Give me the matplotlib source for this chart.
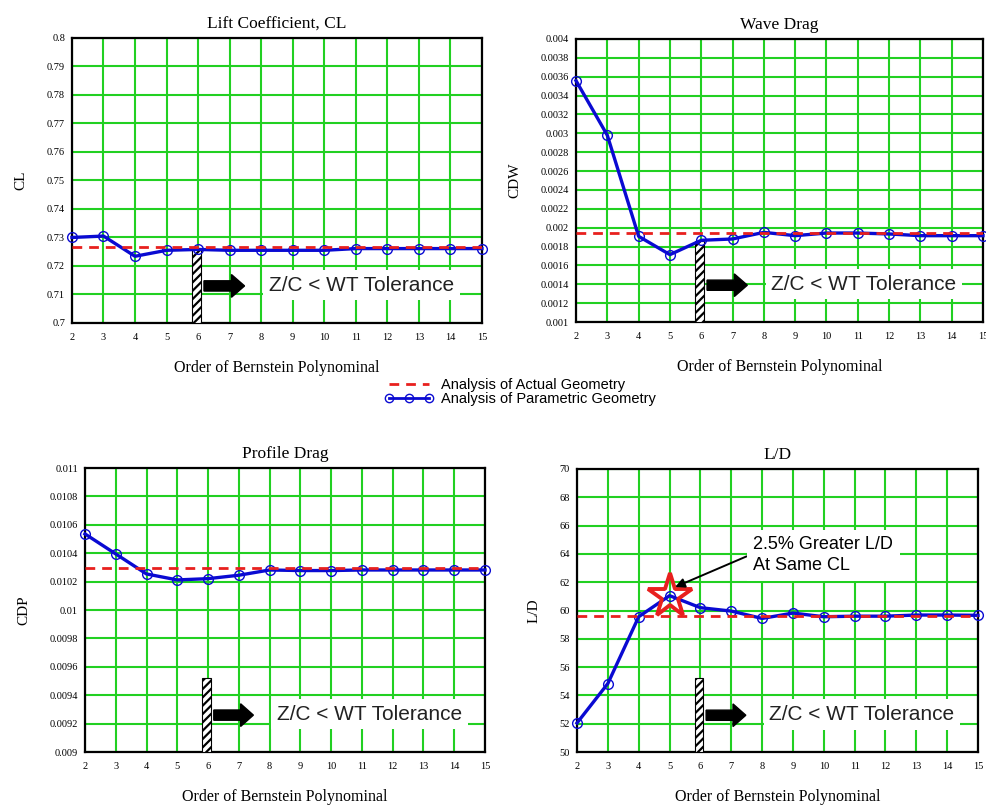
import numpy as np
import matplotlib
matplotlib.use("Agg")
import matplotlib.pyplot as plt
from matplotlib.lines import Line2D
from matplotlib.patches import FancyArrow
from matplotlib.ticker import FuncFormatter

plt.rcParams["font.family"] = ["Liberation Serif", "DejaVu Serif"]
plt.rcParams["hatch.linewidth"] = 1.6

# polynomial order
order = list(range(2, 16))

# lift coefficient
cl_param = [0.7300, 0.7305, 0.7234, 0.7255, 0.7258, 0.7255, 0.7255,
            0.7255, 0.7255, 0.7261, 0.7261, 0.7261, 0.7261, 0.7261]
cl_actual = 0.7265

# wave drag
cdw_param = [0.003558, 0.002979, 0.001908, 0.001714, 0.001866, 0.001880, 0.001950,
             0.001915, 0.001943, 0.001943, 0.001933, 0.001915, 0.001915, 0.001915]
cdw_actual = 0.001943

# profile drag
cdp_param = [0.010536, 0.010395, 0.010254, 0.010212, 0.010221, 0.010245, 0.010282,
             0.010278, 0.010278, 0.010282, 0.010282, 0.010282, 0.010282, 0.010282]
cdp_actual = 0.010296

# lift to drag ratio
ld_param = [52.05, 54.84, 59.56, 61.05, 60.20, 59.96, 59.44,
            59.82, 59.56, 59.60, 59.60, 59.68, 59.68, 59.66]
ld_actual = 59.63

# tolerance marker bar (x position, top value per panel)
tol_order = 5.95
tol_top = {"cl": 0.7258, "cdw": 0.00186, "cdp": 0.009518, "ld": 55.2}

panels = [
    dict(key="cl", title="Lift Coefficient, CL", ylabel="CL", y=cl_param, ref=cl_actual,
         ylim=(0.7, 0.8), step=0.01, pos=[0.0729, 0.5988, 0.4154, 0.354]),
    dict(key="cdw", title="Wave Drag", ylabel="CDW", y=cdw_param, ref=cdw_actual,
         ylim=(0.001, 0.004), step=0.0002, pos=[0.5836, 0.6, 0.4123, 0.3516]),
    dict(key="cdp", title="Profile Drag", ylabel="CDP", y=cdp_param, ref=cdp_actual,
         ylim=(0.009, 0.011), step=0.0002, pos=[0.0861, 0.0658, 0.4053, 0.3528]),
    dict(key="ld", title="L/D", ylabel="L/D", y=ld_param, ref=ld_actual,
         ylim=(50, 70), step=2, pos=[0.5846, 0.0658, 0.4063, 0.3516]),
]

BLUE = "#0a0ad2"
RED = "#e8201e"
GREEN = "#22d022"

fig = plt.figure(figsize=(9.87, 8.05), dpi=100)


def fmt(v, _):
    s = f"{v:.5f}".rstrip("0").rstrip(".")
    return s


for p in panels:
    ax = fig.add_axes(p["pos"])
    lo, hi = p["ylim"]
    n = int(round((hi - lo) / p["step"]))
    ax.set_yticks(np.linspace(lo, hi, n + 1))
    ax.set_xticks(order)
    ax.set_xlim(2, 15)
    ax.set_ylim(lo, hi)
    ax.yaxis.set_major_formatter(FuncFormatter(fmt))
    ax.grid(True, color=GREEN, linewidth=1.5, zorder=0)
    ax.set_axisbelow(True)
    ax.tick_params(length=0, labelsize=7.5)
    ax.tick_params(axis="y", pad=5)
    ax.tick_params(axis="x", pad=7)
    for sp in ax.spines.values():
        sp.set_linewidth(1.6)
        sp.set_color("black")

    ax.plot(order, p["y"], color=BLUE, linewidth=2.4, marker="o", markersize=7,
            markerfacecolor="none", markeredgecolor=BLUE, markeredgewidth=1.0,
            zorder=4, clip_on=False)
    ax.plot([order[0], order[-1]], [p["ref"], p["ref"]], color=RED, linewidth=2.0,
            linestyle=(0, (3.5, 2.5)), zorder=5)

    # hatched tolerance bar
    ax.bar(tol_order, tol_top[p["key"]] - lo, bottom=lo, width=0.28, color="white",
           edgecolor="black", hatch="////", linewidth=0.8, zorder=3)

    ax.add_patch(FancyArrow(0.322, 0.13, 0.099, 0, width=0.036, head_width=0.08,
                            head_length=0.032, length_includes_head=True,
                            transform=ax.transAxes, color="black", zorder=6))
    ax.text(0.48, 0.133, "Z/C < WT Tolerance", transform=ax.transAxes,
            family=["Liberation Sans", "DejaVu Sans"], fontsize=15, va="center",
            ha="left", color="#222222", zorder=6,
            bbox=dict(facecolor="white", edgecolor="none", pad=4))

    ax.set_title(p["title"], fontsize=12.5, pad=7)
    ax.set_ylabel(p["ylabel"], fontsize=11, labelpad=14)
    ax.set_xlabel("Order of Bernstein Polynominal", fontsize=11.5, labelpad=13)

    if p["key"] == "ld":
        best = int(np.argmax(p["y"]))
        ax.plot(order[best], p["y"][best], marker="*", markersize=33,
                markerfacecolor="none", markeredgecolor=RED, markeredgewidth=2.8,
                zorder=7)
        ax.annotate("2.5% Greater L/D\nAt Same CL", xy=(5.18, 61.66),
                    xytext=(0.44, 0.695), textcoords="axes fraction",
                    family=["Liberation Sans", "DejaVu Sans"], fontsize=13,
                    va="center", ha="left", linespacing=1.3, zorder=8,
                    bbox=dict(facecolor="white", edgecolor="none", pad=5),
                    arrowprops=dict(arrowstyle="-|>", color="black", lw=1.4,
                                    mutation_scale=14, shrinkA=0, shrinkB=0,
                                    relpos=(0.0, 0.55)))

handles = [
    Line2D([], [], color=RED, linewidth=2.0, linestyle=(0, (3.5, 2.5))),
    Line2D([], [], color=BLUE, linewidth=2.0, marker="o", markersize=6,
           markerfacecolor="none", markeredgewidth=1.0),
]
fig.legend(handles, ["Analysis of Actual Geometry", "Analysis of Parametric Geometry"],
           loc="center", bbox_to_anchor=(0.527, 0.513), frameon=False,
           numpoints=3, handlelength=3.4, handletextpad=0.5, labelspacing=0.05,
           prop={"family": ["Liberation Sans", "DejaVu Sans"], "size": 10.5})

fig.savefig("out.png", dpi=100)
